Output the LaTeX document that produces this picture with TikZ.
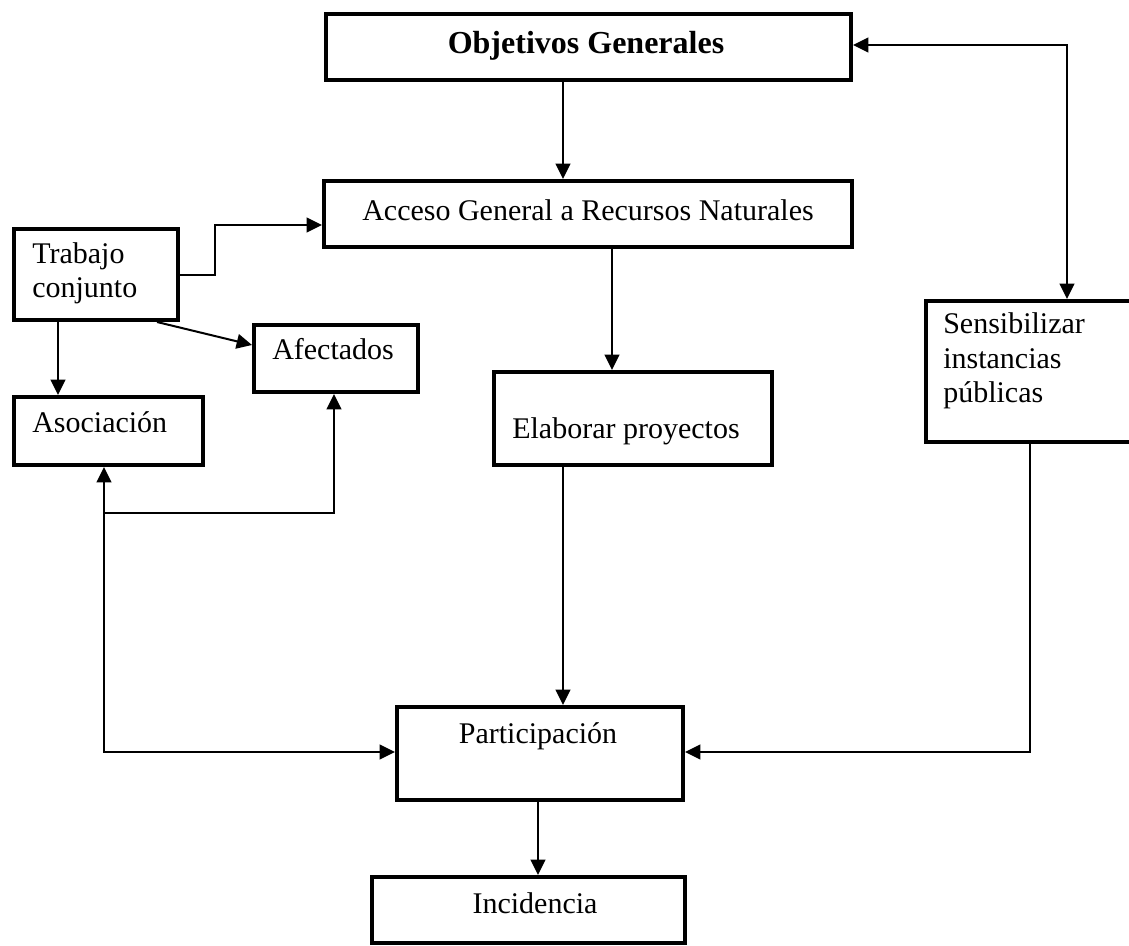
\documentclass[tikz,border=0pt]{standalone}
\usepackage{fontspec}
\setmainfont{Liberation Serif}
\usetikzlibrary{arrows.meta}
\begin{document}
\begin{tikzpicture}[x=0.75pt,y=-0.75pt,
  box/.style={draw, line width=3pt, inner sep=0pt, anchor=north west},
  lbl/.style={inner sep=0pt, font=\fontsize{22.5pt}{27pt}\selectfont},
  conn/.style={line width=1.5pt},
  arr/.style={conn, -{Triangle[length=11.5pt,width=11pt]}},
  darr/.style={conn, {Triangle[length=11.5pt,width=11pt]}-{Triangle[length=11.5pt,width=11pt]}}]
\useasboundingbox (0,0) rectangle (1129,946);
\clip (0,0) rectangle (1129,946);
% boxes
\node[box, minimum width=525*0.75pt, minimum height=66*0.75pt] (obj) at (324,12) {};
\node[box, minimum width=528*0.75pt, minimum height=66*0.75pt] (acc) at (322,179) {};
\node[box, minimum width=164*0.75pt, minimum height=91*0.75pt] (trab) at (12,227) {};
\node[box, minimum width=164*0.75pt, minimum height=67*0.75pt] (afe) at (252,323) {};
\node[box, minimum width=189*0.75pt, minimum height=68*0.75pt] (aso) at (12,395) {};
\node[box, minimum width=278*0.75pt, minimum height=93*0.75pt] (ela) at (492,370) {};
\node[box, minimum width=260*0.75pt, minimum height=141*0.75pt] (sen) at (924,299) {};
\node[box, minimum width=286*0.75pt, minimum height=93*0.75pt] (par) at (395,705) {};
\node[box, minimum width=313*0.75pt, minimum height=66*0.75pt] (inc) at (370,875) {};
% texts
\node[lbl, anchor=base, font=\fontsize{24pt}{29pt}\selectfont\bfseries] (objT) at (586,53) {Objetivos Generales};
\node[lbl, anchor=base] (accT) at (588,220) {Acceso General a Recursos Naturales};
\node[lbl, anchor=base west] (trabT1) at (32,263) {Trabajo};
\node[lbl, anchor=base west] (trabT2) at (32,297) {conjunto};
\node[lbl, anchor=base west] (afeT) at (272,359) {Afectados};
\node[lbl, anchor=base west] (asoT) at (32,432) {Asociación};
\node[lbl, anchor=base west] (elaT) at (512,438) {Elaborar proyectos};
\node[lbl, anchor=base west] (senT1) at (943,333) {Sensibilizar};
\node[lbl, anchor=base west] (senT2) at (943,368) {instancias};
\node[lbl, anchor=base west] (senT3) at (943,402) {públicas};
\node[lbl, anchor=base] (parT) at (538,743) {Participación};
\node[lbl, anchor=base] (incT) at (535,913) {Incidencia};
% connectors
\coordinate (j) at (104,513);
\draw[arr] (obj.south -| 563,0) -- (acc.north -| 563,0);
\draw[darr] (obj.east |- 0,45) -| (sen.north -| 1067,0);
\draw[arr] (trab.east) -- ++(35,0) |- (acc.west |- 0,225);
\draw[arr] (trab.south -| 58,0) -- (aso.north -| 58,0);
\draw[arr] (trab.south -| 157,0) -- (afe.west |- 0,345);
\draw[arr] (acc.south -| 612,0) -- (ela.north -| 612,0);
\draw[darr] (aso.south -| 104,0) |- (par.west |- 0,752);
\draw[arr] (j) -| (afe.south -| 334,0);
\draw[arr] (ela.south -| 563,0) -- (par.north -| 563,0);
\draw[arr] (sen.south -| 1030,0) |- (par.east |- 0,752);
\draw[arr] (par.south -| 538,0) -- (inc.north -| 538,0);
\end{tikzpicture}
\end{document}
